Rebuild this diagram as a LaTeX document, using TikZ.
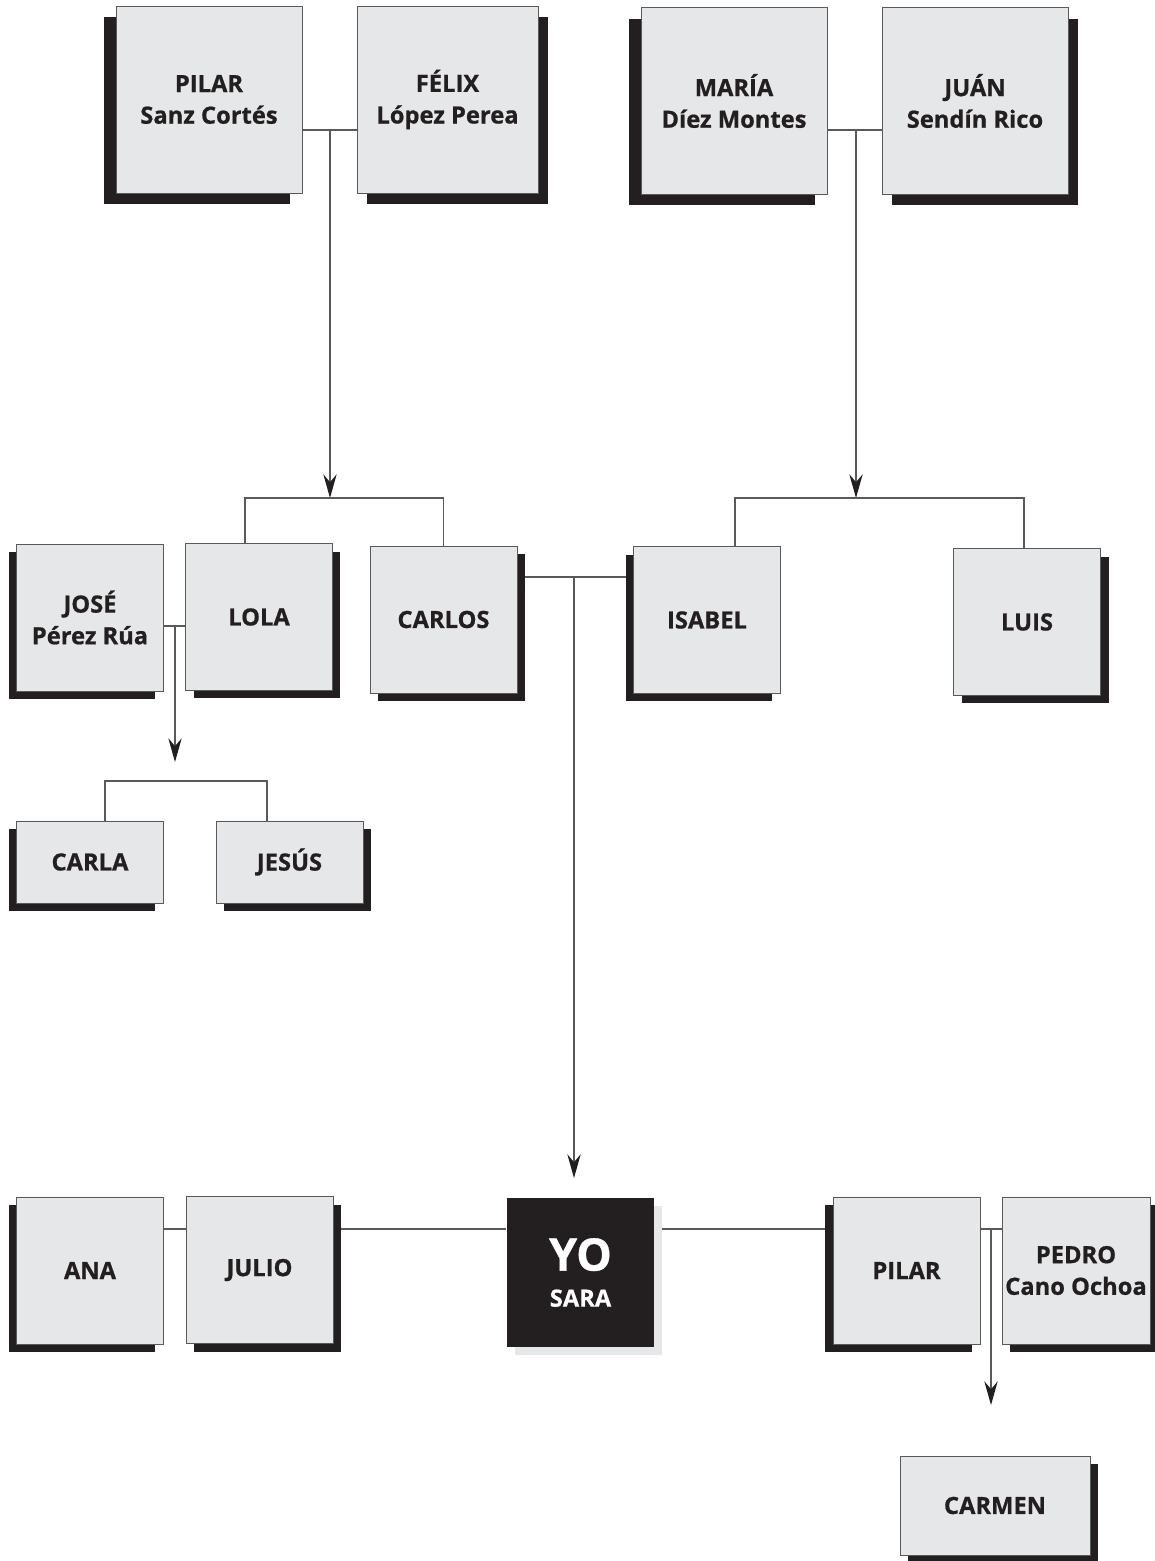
\documentclass[tikz,border=0pt]{standalone}
\usepackage{fontspec}
\setmainfont{Open Sans}[BoldFeatures={FakeBold=0.7}]
\usetikzlibrary{arrows.meta, shadows, backgrounds}

\definecolor{boxgray}{HTML}{E6E7E8}
\definecolor{inkblack}{HTML}{231F20}
\definecolor{linegray}{HTML}{58595B}

\tikzset{
  person/.style={draw=linegray, line width=0.5pt, fill=boxgray, text=inkblack,
    align=center, inner sep=0pt, font=\bfseries\fontsize{13.5}{18}\selectfont,
    minimum width=2.94cm, minimum height=2.94cm},
  bigbox/.style={person, minimum width=3.72cm, minimum height=3.74cm},
  lowbox/.style={person, minimum height=1.64cm},
  shadowleft/.style={drop shadow={shadow xshift=-0.16cm, shadow yshift=-0.16cm, fill=inkblack, opacity=1}},
  shadowright/.style={drop shadow={shadow xshift=0.16cm, shadow yshift=-0.16cm, fill=inkblack, opacity=1}},
  bigleft/.style={drop shadow={shadow xshift=-0.24cm, shadow yshift=-0.22cm, fill=inkblack, opacity=1}},
  bigright/.style={drop shadow={shadow xshift=0.2cm, shadow yshift=-0.22cm, fill=inkblack, opacity=1}},
  link/.style={draw=linegray, line width=0.75pt},
  childarrow/.style={link, -{Stealth[length=13.5pt, width=7.6pt, inset=4.5pt, color=inkblack]}}
}

\begin{document}
\begin{tikzpicture}[x=0.02cm, y=-0.02cm]
    \useasboundingbox (0,0) rectangle (1155,1561);

    % grandparents
    \node (pilar) [bigbox, bigleft] at (209,99.5) {PILAR\\Sanz Cortés};
    \node (felix) [bigbox, bigright, minimum width=3.62cm] at (447.5,99.5) {FÉLIX\\López Perea};
    \node (maria) [bigbox, bigleft] at (734,101) {MARÍA\\Díez Montes};
    \node (juan) [bigbox, bigright] at (975,101) {JUÁN\\Sendín Rico};

    % parents, uncles
    \node (jose) [person, shadowleft] at (90,617.5) {JOSÉ\\Pérez Rúa};
    \node (lola) [person, shadowright] at (259,617) {LOLA};
    \node (carlos) [person, shadowright] at (443.5,619.5) {CARLOS};
    \node (isabel) [person, shadowleft] at (707,620) {ISABEL};
    \node (luis) [person, shadowright] at (1027,622) {LUIS};

    % cousins
    \node (carla) [lowbox, shadowleft] at (90,862) {CARLA};
    \node (jesus) [lowbox, shadowright] at (289.5,862) {JESÚS};

    % siblings
    \node (ana) [person, shadowleft] at (90,1270.5) {ANA};
    \node (julio) [person, shadowright] at (259.5,1270) {JULIO};
    \node (yo) [person, draw=none, fill=inkblack, text=white, minimum width=2.96cm, minimum height=2.98cm,
        font=\bfseries\fontsize{25.5}{20.5}\selectfont,
        drop shadow={shadow xshift=0.16cm, shadow yshift=-0.16cm, fill=boxgray, opacity=1}]
        at (580.5,1272.5) {YO\\{\fontsize{13.5}{18}\selectfont SARA}};
    \node (pilarb) [person, shadowleft] at (906.5,1270.5) {PILAR};
    \node (pedro) [person, shadowright, minimum width=2.96cm] at (1076,1270.5) {PEDRO\\Cano Ochoa};
    \node (carmen) [person, shadowright, minimum width=3.8cm, minimum height=1.98cm] at (995,1505.5) {CARMEN};

    \coordinate (knot1) at (330,130);
    \coordinate (fork1) at (330,498);
    \coordinate (knot2) at (856,130);
    \coordinate (fork2) at (856,498);
    \coordinate (knot3) at (175,626);
    \coordinate (tip3) at (175,762);
    \coordinate (fork3) at (175,781);
    \coordinate (knot4) at (574,577);
    \coordinate (tip4) at (574,1178);
    \coordinate (knot5) at (991,1229);
    \coordinate (tip5) at (991,1405);

    \begin{pgfonlayer}{background}
    \draw[link] (pilar.east |- knot1) -- (felix.west |- knot1);
    \draw[childarrow] (knot1) -- (fork1);
    \draw[link] ([xshift=-0.28cm]lola.north) |- (fork1) -| (carlos.north);

    \draw[link] (maria.east |- knot2) -- (juan.west |- knot2);
    \draw[childarrow] (knot2) -- (fork2);
    \draw[link] ([xshift=0.56cm]isabel.north) |- (fork2) -| ([xshift=-0.06cm]luis.north);

    \draw[link] (jose.east |- knot3) -- (lola.west |- knot3);
    \draw[childarrow] (knot3) -- (tip3);
    \draw[link] ([xshift=0.3cm]carla.north) |- (fork3) -| ([xshift=-0.45cm]jesus.north);

    \draw[link] (carlos.east |- knot4) -- (isabel.west |- knot4);
    \draw[childarrow] (knot4) -- (tip4);

    \draw[link] (ana.east |- knot5) -- (julio.west |- knot5);
    \draw[link] (julio.east |- knot5) -- (yo.west |- knot5);
    \draw[link] (yo.east |- knot5) -- (pilarb.west |- knot5);
    \draw[link] (pilarb.east |- knot5) -- (pedro.west |- knot5);
    \draw[childarrow] (knot5) -- (tip5);
    \end{pgfonlayer}
\end{tikzpicture}
\end{document}
